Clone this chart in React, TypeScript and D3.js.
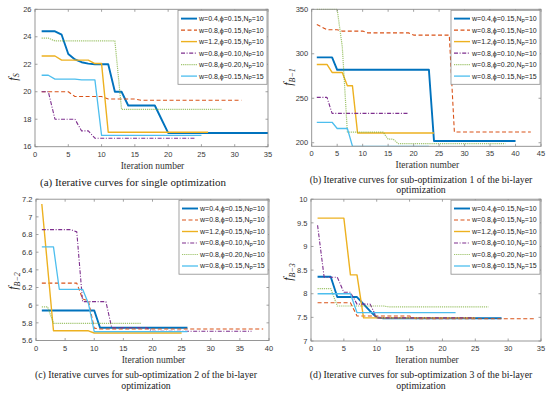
import React from 'react';
import * as d3 from 'd3';

const COLORS = ['#0072BD', '#D95319', '#EDB120', '#7E2F8E', '#77AC30', '#4DBEEE'];
const LEG_W = ['0.4', '0.8', '1.2', '0.8', '0.8', '0.8'];
const LEG_PHI = ['0.15', '0.15', '0.15', '0.10', '0.20', '0.15'];
const LEG_NP = ['10', '10', '10', '10', '10', '15'];

// (a) single optimization
const A_W04 = [24.4, 24.4, 24.4, 24.15, 22.75, 22.35, 22.15, 22.05, 22.0, 22.0, 22.0, 20.0, 20.0, 19.0, 19.0, 19.0, 19.0, 19.0, 18.0, 17.0, 17.0, 17.0, 17.0, 17.0, 17.0, 17.0, 17.0, 17.0, 17.0, 17.0, 17.0, 17.0, 17.0, 17.0, 17.0];
const A_W08 = [20.0, 20.0, 20.0, 20.0, 20.0, 19.65, 19.65, 19.65, 19.65, 19.65, 19.47, 19.47, 19.47, 19.47, 19.47, 19.38, 19.38, 19.38, 19.38, 19.38, 19.38, 19.38, 19.38, 19.38, 19.38, 19.38, 19.38, 19.38, 19.38, 19.38, 19.38];
const A_W12 = [22.6, 22.6, 22.6, 22.3, 22.3, 22.3, 22.3, 22.3, 22.05, 22.05, 17.05, 17.05, 17.05, 17.05, 17.05, 17.05, 17.05, 17.05, 17.05, 17.05, 17.05, 17.05, 17.05, 17.05, 17.05, 17.05];
const A_PHI010 = [20.0, 20.0, 18.0, 18.0, 18.0, 18.0, 17.15, 17.15, 16.62, 16.62, 16.62, 16.62, 16.62, 16.62, 16.62, 16.62, 16.62, 16.62, 16.62, 16.62, 16.62, 16.62, 16.62, 16.62];
const A_PHI020 = [23.9, 23.9, 23.7, 23.7, 23.7, 23.7, 23.7, 23.7, 23.7, 23.7, 23.7, 23.7, 18.72, 18.72, 18.72, 18.72, 18.72, 18.72, 18.72, 18.72, 18.72, 18.72, 18.72, 18.72, 18.72, 18.72, 18.72, 18.72];
const A_NP15 = [21.2, 21.2, 20.92, 20.92, 20.92, 20.92, 20.86, 20.86, 20.86, 16.82, 16.82, 16.82, 16.82, 16.82, 16.82, 16.82, 16.82, 16.82, 16.82, 16.82, 16.82, 16.82, 16.82, 16.82, 16.82];

// (b) sub-optimization 1
const B_W04 = [296, 296, 296, 296, 282, 282, 282, 282, 282, 282, 282, 282, 282, 282, 282, 282, 282, 282, 282, 282, 282, 282, 282, 202, 202, 202, 202, 202, 202, 202, 202, 202, 202, 202, 202, 202, 202, 202, 202, 202];
const B_W08 = [333, 330, 327, 327, 327, 325.5, 325.5, 325.5, 325.5, 325.5, 323.5, 323.5, 323.5, 323.5, 323.5, 323.5, 323.5, 323.5, 323.5, 321, 321, 321, 321, 321, 321, 321, 321, 212, 212, 212, 212, 212, 212, 212, 212, 212, 212, 212, 212, 212, 212, 212, 212];
const B_W12 = [288, 288, 288, 279, 279, 279, 264, 264, 211, 211, 211, 211, 211, 211, 211, 211, 211, 211, 211, 211, 211, 211, 211, 211];
const B_PHI010 = [251, 251, 251, 233, 233, 233, 233, 233, 233, 233, 233, 233, 233, 233, 233, 233, 233, 233, 233];
const B_PHI020 = [350, 350, 350, 350, 350, 308, 212, 212, 212, 212, 212, 212, 212, 212, 204, 204, 199, 199, 199, 199, 199, 199, 199, 199, 199, 199, 199, 199, 199, 199, 199, 199, 199, 199, 199, 199, 199, 199];
const B_NP15 = [223, 223, 223, 223, 216, 216, 216, 196, 196, 196, 196, 196, 196, 196, 196, 196, 196, 196, 196, 196, 196, 196, 196];

// (c) sub-optimization 2
const C_W04 = [5.94, 5.94, 5.94, 5.94, 5.94, 5.94, 5.94, 5.94, 5.94, 5.94, 5.745, 5.745, 5.745, 5.745, 5.745, 5.745, 5.745, 5.745, 5.745, 5.745, 5.745, 5.745, 5.745, 5.745, 5.745, 5.745];
const C_W08 = [6.25, 6.25, 6.25, 6.25, 6.25, 6.25, 6.25, 6.07, 6.05, 5.74, 5.73, 5.73, 5.73, 5.73, 5.73, 5.73, 5.73, 5.73, 5.73, 5.73, 5.73, 5.73, 5.73, 5.73, 5.73, 5.73, 5.73, 5.73, 5.73, 5.73, 5.73, 5.73, 5.73, 5.73, 5.73, 5.73, 5.73, 5.73, 5.73];
const C_W12 = [7.145, 6.43, 5.71, 5.71, 5.71, 5.71, 5.71, 5.71, 5.71, 5.685, 5.685, 5.685, 5.685, 5.685, 5.685, 5.685, 5.685, 5.685, 5.685, 5.685, 5.685, 5.685, 5.685, 5.685, 5.685];
const C_PHI010 = [6.855, 6.855, 6.855, 6.855, 6.855, 6.855, 6.83, 6.04, 6.04, 6.04, 6.04, 6.04, 5.745, 5.745, 5.745, 5.745, 5.745, 5.745, 5.745, 5.705, 5.705, 5.705, 5.705, 5.705, 5.705, 5.705, 5.705, 5.705, 5.705, 5.705, 5.705, 5.705, 5.705, 5.705, 5.705, 5.705, 5.705];
const C_PHI020 = [5.98, 5.98, 5.795, 5.795, 5.795, 5.795, 5.795, 5.795, 5.795, 5.795, 5.795, 5.795, 5.795, 5.795, 5.795, 5.795, 5.795, 5.795];
const C_NP15 = [6.66, 6.66, 6.66, 6.18, 6.18, 6.18, 6.18, 6.18, 6.02, 5.70, 5.70, 5.70, 5.70, 5.70, 5.70, 5.70, 5.70, 5.70, 5.70, 5.70, 5.70, 5.70, 5.70, 5.70, 5.70, 5.70];

// (d) sub-optimization 3
const D_W04 = [8.36, 8.36, 8.36, 7.93, 7.93, 7.93, 7.93, 7.78, 7.63, 7.5, 7.48, 7.48, 7.48, 7.48, 7.48, 7.48, 7.48, 7.48, 7.48, 7.48, 7.48, 7.48, 7.48, 7.48, 7.48, 7.48, 7.48, 7.48, 7.48];
const D_W08 = [7.81, 7.81, 7.81, 7.81, 7.81, 7.81, 7.53, 7.53, 7.53, 7.53, 7.53, 7.53, 7.53, 7.53, 7.53, 7.47, 7.47, 7.47, 7.47, 7.47, 7.47, 7.47, 7.47, 7.47, 7.47, 7.47, 7.47, 7.47, 7.47, 7.47, 7.47, 7.47, 7.47, 7.47];
const D_W12 = [9.6, 9.6, 9.6, 9.6, 9.6, 8.4, 8.4, 7.49, 7.49, 7.49, 7.49, 7.49, 7.49, 7.49, 7.49, 7.49, 7.49, 7.49, 7.49, 7.49, 7.49, 7.49, 7.49, 7.49, 7.49];
const D_PHI010 = [9.45, 8.35, 8.35, 8.35, 8.03, 8.03, 7.78, 7.78, 7.78, 7.49, 7.49, 7.49, 7.49, 7.49, 7.49, 7.49, 7.49, 7.49, 7.49, 7.49, 7.49, 7.49, 7.49, 7.49, 7.49];
const D_PHI020 = [8.11, 8.11, 8.11, 7.74, 7.74, 7.74, 7.74, 7.74, 7.74, 7.74, 7.74, 7.72, 7.72, 7.72, 7.72, 7.72, 7.72, 7.72, 7.72, 7.72, 7.72, 7.72, 7.72, 7.72, 7.72, 7.72, 7.72];
const D_NP15 = [8.0, 8.0, 8.0, 8.0, 8.0, 8.0, 7.6, 7.6, 7.6, 7.6, 7.6, 7.6, 7.6, 7.6, 7.6, 7.6, 7.6, 7.6, 7.6, 7.6, 7.6, 7.6];

const A_XTICKS = [0, 5, 10, 15, 20, 25, 30, 35];
const B_XTICKS = [0, 5, 10, 15, 20, 25, 30, 35, 40, 45];
const C_XTICKS = [0, 5, 10, 15, 20, 25, 30, 35, 40];
const D_XTICKS = [0, 5, 10, 15, 20, 25, 30, 35];
const A_YTICKS = [16, 18, 20, 22, 24, 26];
const B_YTICKS = [200, 250, 300, 350];
const C_YTICKS = [5.6, 5.8, 6, 6.2, 6.4, 6.6, 6.8, 7, 7.2];
const D_YTICKS = [7, 7.5, 8, 8.5, 9, 9.5, 10];

const A_CAPTION = ['(a) Iterative curves for single optimization'];
const B_CAPTION = ['(b) Iterative curves for sub-optimization 1 of the bi-layer', 'optimization'];
const C_CAPTION = ['(c) Iterative curves for sub-optimization 2 of the bi-layer', 'optimization'];
const D_CAPTION = ['(d) Iterative curves for sub-optimization 3 of the bi-layer', 'optimization'];

const WIDTHS = [1.9, 1.1, 1.4, 1.1, 1.2, 1.3];
const DASHES = ['', '4,2.5', '', '4,1.6,1,1.6', '1.2,0.9', ''];
const OPAC = [1, 1, 1, 1, 0.7, 1];

const PANELS = [
  { id: 'a', series: [A_W04, A_W08, A_W12, A_PHI010, A_PHI020, A_NP15], xDomain: [0, 35], yDomain: [16, 26], xTicks: A_XTICKS, yTicks: A_YTICKS, sub: 'S', caption: A_CAPTION,
    left: 35, right: 268, top: 9.3, bottom: 146.7, ylabX: 16.5, ylabY: 77, capX: 133, capY: 185.5, capSize: 11 },
  { id: 'b', series: [B_W04, B_W08, B_W12, B_PHI010, B_PHI020, B_NP15], xDomain: [0, 45], yDomain: [196, 350], xTicks: B_XTICKS, yTicks: B_YTICKS, sub: 'B−1', caption: B_CAPTION,
    left: 311.7, right: 541, top: 9.3, bottom: 146.3, ylabX: 292, ylabY: 77, capX: 421, capY: 182.7, capSize: 9.8 },
  { id: 'c', series: [C_W04, C_W08, C_W12, C_PHI010, C_PHI020, C_NP15], xDomain: [0, 40], yDomain: [5.6, 7.2], xTicks: C_XTICKS, yTicks: C_YTICKS, sub: 'B−2', caption: C_CAPTION,
    left: 36, right: 269, top: 199.2, bottom: 340.5, ylabX: 17, ylabY: 281, capX: 146, capY: 378.4, capSize: 9.8 },
  { id: 'd', series: [D_W04, D_W08, D_W12, D_PHI010, D_PHI020, D_NP15], xDomain: [0, 35], yDomain: [7, 10], xTicks: D_XTICKS, yTicks: D_YTICKS, sub: 'B−3', caption: D_CAPTION,
    left: 311, right: 541, top: 199.2, bottom: 341, ylabX: 292, ylabY: 272, capX: 421, capY: 378.4, capSize: 9.8 },
];

const AXIS_COLOR = '#8c8c8c';
const TEXT_COLOR = '#383838';
const SANS = 'Liberation Sans, Arial, sans-serif';
const SERIF = 'Liberation Serif, Times New Roman, serif';

function Panel({ p }: { p: any }) {
  const x = d3.scaleLinear().domain(p.xDomain).range([p.left, p.right]);
  const y = d3.scaleLinear().domain(p.yDomain).range([p.bottom, p.top]);
  const line = d3.line<number>().x((_, i) => x(i + 1)).y((d) => y(d));
  const clipId = 'clip-' + p.id;
  const tl = 2.5;
  const legW = 89;
  const legX = p.right - legW - 1;
  const legY = p.top + 1;
  const rowH = 11.5;
  return (
    <g>
      <defs>
        <clipPath id={clipId}>
          <rect x={p.left} y={p.top - 1} width={p.right - p.left} height={p.bottom - p.top + 1} />
        </clipPath>
      </defs>
      <rect x={p.left} y={p.top} width={p.right - p.left} height={p.bottom - p.top} fill="#fff" />
      <g clipPath={`url(#${clipId})`}>
        {p.series.map((s: number[], i: number) => (
          <path key={i} d={line(s) || ''} fill="none" stroke={COLORS[i]} strokeWidth={WIDTHS[i]}
            strokeDasharray={DASHES[i] || undefined} strokeLinejoin="round" opacity={OPAC[i]} />
        ))}
      </g>
      <rect x={p.left} y={p.top} width={p.right - p.left} height={p.bottom - p.top} fill="none" stroke={AXIS_COLOR} strokeWidth={0.9} />
      {p.xTicks.map((t: number) => (
        <g key={'x' + t}>
          <line x1={x(t)} x2={x(t)} y1={p.bottom} y2={p.bottom - tl} stroke={AXIS_COLOR} strokeWidth={0.8} />
          <line x1={x(t)} x2={x(t)} y1={p.top} y2={p.top + tl} stroke={AXIS_COLOR} strokeWidth={0.8} />
          <text x={x(t)} y={p.bottom + 10} textAnchor="middle" fontFamily={SANS} fontSize={7.5} fill={TEXT_COLOR}>{t}</text>
        </g>
      ))}
      {p.yTicks.map((t: number) => (
        <g key={'y' + t}>
          <line x1={p.left} x2={p.left + tl} y1={y(t)} y2={y(t)} stroke={AXIS_COLOR} strokeWidth={0.8} />
          <line x1={p.right} x2={p.right - tl} y1={y(t)} y2={y(t)} stroke={AXIS_COLOR} strokeWidth={0.8} />
          <text x={p.left - 3.5} y={y(t) + 2.7} textAnchor="end" fontFamily={SANS} fontSize={7.5} fill={TEXT_COLOR}>{String(t)}</text>
        </g>
      ))}
      <text x={(p.left + p.right) / 2 + 1} y={p.bottom + 22} textAnchor="middle" fontFamily={SERIF} fontSize={9.5} fill="#333">Iteration number</text>
      <text transform={`translate(${p.ylabX},${p.ylabY}) rotate(-90)`} textAnchor="middle" fontFamily={SERIF} fill="#222">
        <tspan fontStyle="italic" fontSize={12}>f</tspan>
        <tspan fontSize={8} dy={2.5} fontStyle="italic">{p.sub}</tspan>
      </text>
      {p.caption.map((c: string, i: number) => (
        <text key={i} x={p.capX} y={p.capY + i * 10.7} textAnchor="middle" fontFamily={SERIF} fontSize={p.capSize} fill="#222">{c}</text>
      ))}
      <rect x={legX} y={legY} width={legW} height={74} fill="#fff" stroke={AXIS_COLOR} strokeWidth={0.8} />
      {COLORS.map((c, i) => {
        const ry = legY + 8.3 + i * rowH;
        return (
          <g key={'l' + i}>
            <line x1={legX + 3} x2={legX + 19} y1={ry} y2={ry} stroke={c} strokeWidth={WIDTHS[i]} strokeDasharray={DASHES[i] || undefined} opacity={OPAC[i]} />
            <text x={legX + 21} y={ry + 2.4} fontFamily={SANS} fontSize={7} fill="#222">
              {`w=${LEG_W[i]},ϕ=${LEG_PHI[i]},N`}
              <tspan fontSize={5} dy={1.5}>P</tspan>
              <tspan dy={-1.5}>{`=${LEG_NP[i]}`}</tspan>
            </text>
          </g>
        );
      })}
    </g>
  );
}

export default function App() {
  return (
    <svg width={550} height={399} style={{ position: 'absolute', left: 0, top: 0, background: '#fff' }}>
      <rect x={0} y={0} width={550} height={399} fill="#fff" />
      {PANELS.map((p) => <Panel key={p.id} p={p} />)}
    </svg>
  );
}
